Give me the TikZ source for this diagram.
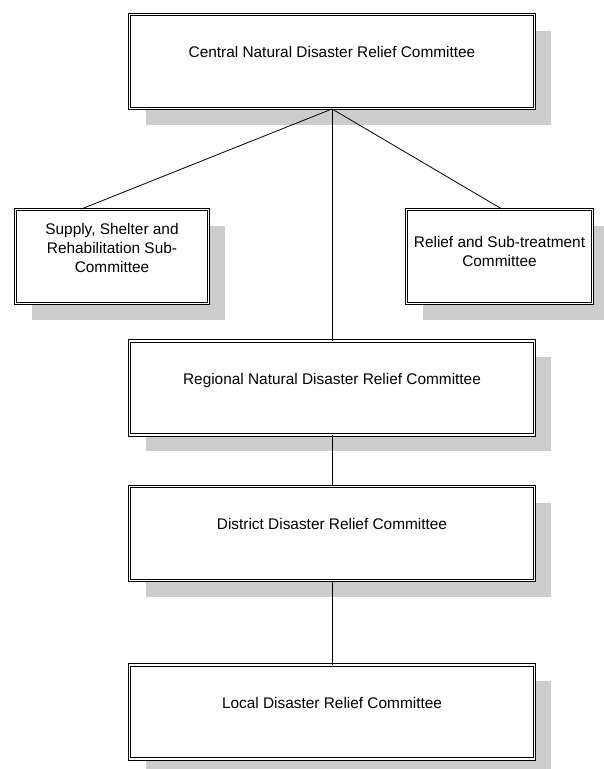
\documentclass[tikz,border=0pt]{standalone}
\usepackage{fontspec}
\setmainfont{Liberation Sans}
\usetikzlibrary{shadows}

\begin{document}
\begin{tikzpicture}
\tikzset{x=1pt, y=-1pt}
\tikzset{font=\fontsize{15.4}{19}\selectfont}
\tikzset{committee/.style={draw, double, line width=0.9pt, double distance=1.4pt, fill=white, align=center, text height=11pt, drop shadow={shadow xshift=16pt, shadow yshift=-16pt, fill=gray!40, opacity=1, draw=none}}}
\tikzset{wide/.style={minimum width=405pt, minimum height=94pt, text depth=19pt}}
\tikzset{side/.style={minimum height=94pt, text depth=11pt}}
\tikzset{link/.style={draw, line width=0.8pt}}
\useasboundingbox (0,0) rectangle (603,769);
% top level
\node[committee, wide] (central) at (332,61.5) {Central Natural Disaster Relief Committee};
% sub-committees
\node[committee, side, minimum width=193pt, text height=42pt] (supply) at (112,256.5) {Supply, Shelter and\\Rehabilitation Sub-\\Committee};
\node[committee, side, minimum width=186pt, text height=31pt] (relief) at (499.5,256.5) {Relief and Sub-treatment\\Committee};
% lower levels
\node[committee, wide] (regional) at (332,388) {Regional Natural Disaster Relief Committee};
\node[committee, wide] (district) at (332,533.5) {District Disaster Relief Committee};
\node[committee, wide] (local) at (332,712) {Local Disaster Relief Committee};
% connectors
\draw[link] (central.south) -- (supply.123);
\draw[link] (central.south) -- (relief.87);
\draw[link] (central.south) -- (regional.north);
\draw[link] (regional.south) -- (district.north);
\draw[link] (district.south) -- (local.north);
\end{tikzpicture}
\end{document}
